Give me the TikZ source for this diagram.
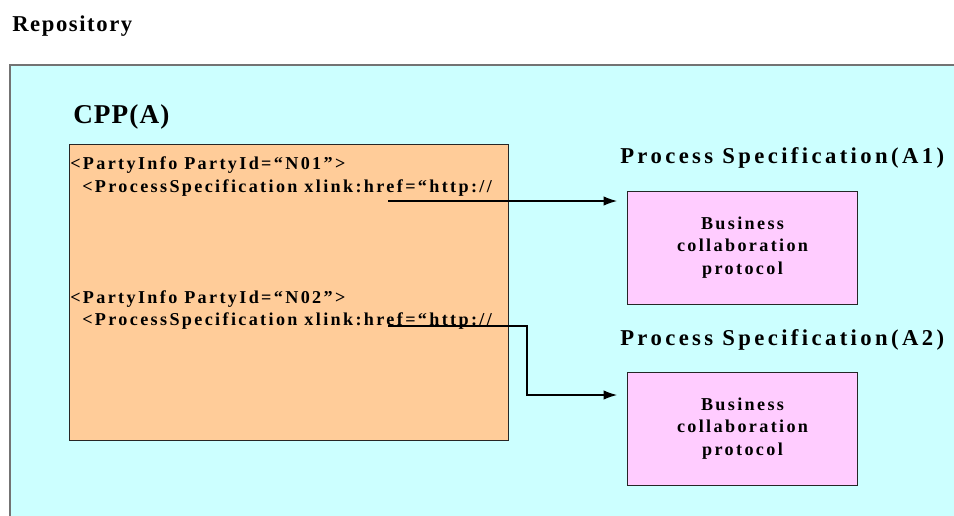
\documentclass[tikz,border=0pt]{standalone}
\usepackage{fontspec}
\setmainfont{Liberation Serif}
\newfontfamily\trk[LetterSpace=13]{Liberation Serif}
\newfontfamily\trkT[LetterSpace=15]{Liberation Serif}
\newfontfamily\trkR[LetterSpace=7]{Liberation Serif}
\newfontfamily\trkC[LetterSpace=4]{Liberation Serif}
\usetikzlibrary{arrows.meta,positioning}
\definecolor{repocol}{HTML}{CCFFFF}
\definecolor{cppcol}{HTML}{FFCC99}
\definecolor{bcpcol}{HTML}{FFCCFF}
\tikzset{>={Latex[length=10pt,width=7pt]}}

\begin{document}
\begin{tikzpicture}[x=0.75pt, y=-0.75pt,
                    REPO/.style = {fill=repocol, draw=gray!90!black, line width=1.1pt},
                    CPP/.style = {draw=black!85, fill=cppcol, line width=0.9pt,
                              anchor=north west, inner sep=0pt,
                              minimum width=329.6pt, minimum height=222pt},
                    BCP/.style = {draw=black!85, fill=bcpcol, line width=0.8pt,
                              anchor=north west, align=center,
                              minimum width=172.5pt, minimum height=84.75pt,
                              text depth=4pt,
                              font=\trk\bfseries\fontsize{13.6}{16.9}\selectfont},
                    TTL/.style = {anchor=base west, inner sep=0pt,
                              font=\trkT\bfseries\fontsize{17}{20}\selectfont},
                    XML/.style = {anchor=base west, inner sep=0pt,
                              font=\trk\bfseries\fontsize{13.6}{16}\selectfont},
                    LNK/.style = {line width=0.8pt, ->, shorten >=7.5pt}
               ]
               \useasboundingbox (0,0) rectangle (954,515);
               % repository area
               \node[anchor=base west, inner sep=0pt,
                     font=\trkR\bfseries\fontsize{17}{20}\selectfont] (repo) at (12,31) {Repository};
               \draw[REPO] (10,540) -- (10,65) -- (980,65);
               \fill[repocol] (11,66) rectangle (980,540);

               % collaboration protocol profile
               \node[anchor=base west, inner sep=0pt,
                     font=\trkC\bfseries\fontsize{20.4}{24}\selectfont] (cpp) at (73,123) {CPP(A)};
               \node[CPP] (cppbox) at (68.5,144) {};
               \node[XML] (pi1) at (70,169) {<PartyInfo PartyId=“N01”>};
               \node[XML] (ps1) at (82,192) {<ProcessSpecification xlink:href=“http://};
               \node[XML] (pi2) at (70,303) {<PartyInfo PartyId=“N02”>};
               \node[XML] (ps2) at (82,325) {<ProcessSpecification xlink:href=“http://};

               % process specifications
               \node[TTL] (spec1) at (620,163) {Process Specification(A1)};
               \node[TTL] (spec2) at (620,345) {Process Specification(A2)};
               \node[BCP] (bcp1) at (627,191) {Business\\collaboration\\protocol};
               \node[BCP] (bcp2) at (627,372) {Business\\collaboration\\protocol};

               % links
               \coordinate (ref1) at (388,201);
               \coordinate (ref2) at (388,326);
               \coordinate (bend) at (527,326);
               \draw[LNK] (ref1) -- (ref1 -| bcp1.west);
               \draw[LNK] (ref2) -- (bend) |- ([yshift=-23pt*0.75]bcp2.north west);
          \end{tikzpicture}
\end{document}
